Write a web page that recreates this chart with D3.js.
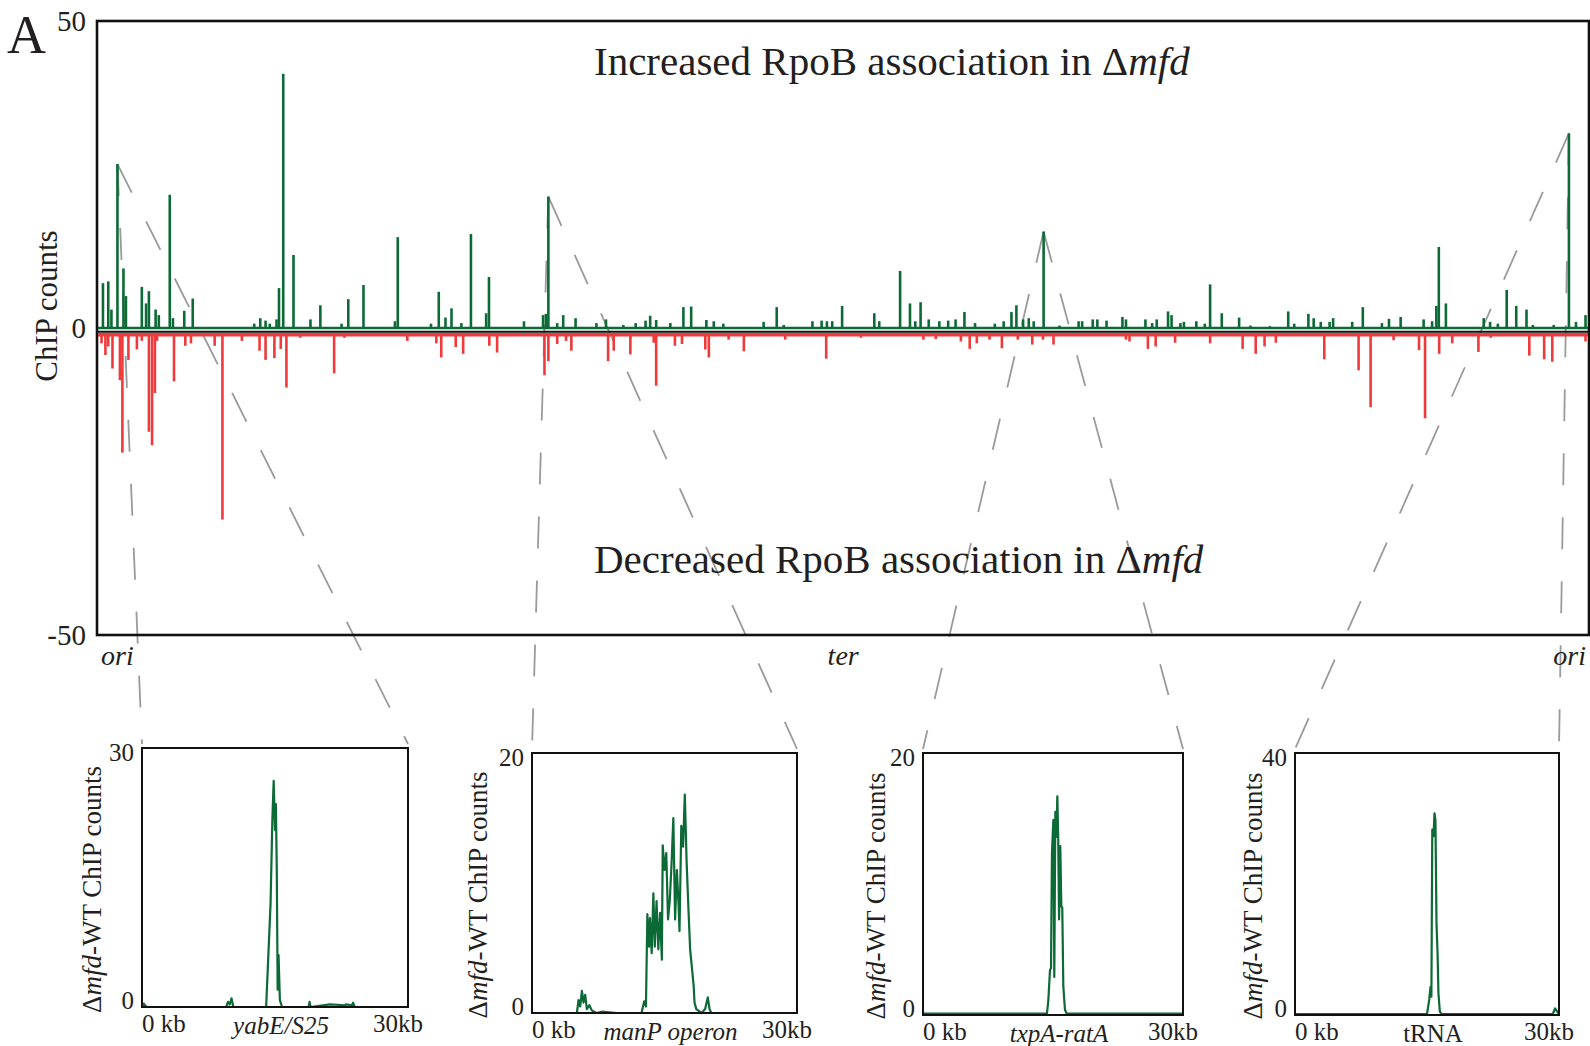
<!DOCTYPE html>
<html>
<head>
<meta charset="utf-8">
<script src="https://cdn.jsdelivr.net/npm/d3@7"></script>
<style>
body { margin: 0; background: #fff; }
</style>
</head>
<body>
<div id="viz"></div>
<script>
const w = 1590;
const h = 1046;
const serif = '"Liberation Serif", "Times New Roman", serif';
const green = '#0b6a35';
const red = '#ee3a3a';
const ink = '#231f20';

// genome length (kb), main y ticks
const genomeKb = 4215;
const mainTicks = [-50, 0, 50];
const genomeLabels = ['ori', 'ter', 'ori'];
const genomeLabelKb = [0, 2108, 4215];

// [position kb, delta count] - increased in mfd
const greenSpikes = [
  [14,7.3],[29,7.6],[38,3.0],[55,26.7],[72,9.7],[79,5.2],[124,6.7],[136,4.0],[144,6.0],[163,3.0],
  [172,2.1],[203,21.7],[212,1.6],[244,2.8],[268,4.8],[442,0.7],[459,1.6],[474,1.2],[486,0.7],[505,1.4],
  [512,6.5],[524,41.4],[553,11.9],[601,1.4],[629,3.7],[689,0.7],[708,4.7],[751,7.0],[840,1.1],[848,14.8],
  [942,0.7],[964,5.9],[983,1.7],[1000,3.2],[1028,0.8],[1055,15.3],[1098,2.4],[1106,8.3],[1205,1.1],[1259,2.1],
  [1267,2.3],[1274,21.4],[1299,0.8],[1316,2.1],[1351,1.6],[1410,0.8],[1437,1.4],[1486,0.5],[1521,0.8],[1549,1.2],
  [1562,2.0],[1579,1.3],[1619,0.8],[1656,3.4],[1678,3.5],[1721,1.3],[1742,1.1],[1769,0.7],[1883,1.0],[1920,3.4],
  [1940,0.5],[2021,1.1],[2047,1.2],[2062,1.1],[2077,1.1],[2105,3.6],[2196,2.4],[2210,1.1],[2269,9.3],[2297,4.0],
  [2312,1.1],[2327,4.2],[2350,1.4],[2380,1.1],[2405,1.2],[2426,1.4],[2451,2.6],[2481,0.8],[2537,0.7],[2562,1.1],
  [2584,2.6],[2598,3.7],[2617,1.4],[2633,1.6],[2647,1.1],[2675,15.7],[2720,0.4],[2774,1.1],[2784,1.1],[2814,1.4],
  [2827,1.4],[2853,1.2],[2898,1.8],[2908,1.4],[2963,1.4],[2982,0.8],[2995,1.4],[3027,2.7],[3037,2.1],[3062,0.8],
  [3072,1.0],[3107,1.1],[3131,0.7],[3146,7.1],[3179,2.4],[3228,1.7],[3260,0.4],[3315,0.3],[3367,2.7],[3384,0.7],
  [3424,2.3],[3439,1.6],[3459,1.0],[3484,1.0],[3494,1.6],[3548,1.0],[3578,3.4],[3632,0.8],[3652,1.5],[3685,1.8],
  [3750,1.4],[3774,1.1],[3786,3.6],[3793,13.2],[3813,4.0],[3920,1.6],[3938,1.0],[3960,0.7],[3985,6.2],[4012,3.6],
  [4041,3.0],[4059,0.5],[4118,0.5],[4161,31.7],[4181,1.0],[4208,2.1]
];

// [position kb, delta count] - decreased in mfd
const redSpikes = [
  [10,-2.5],[21,-4.4],[29,-3.0],[41,-6.6],[62,-8.5],[69,-20.3],[77,-1.3],[86,-5.2],[110,-3.5],[124,-2.1],
  [144,-16.9],[153,-19.1],[161,-10.6],[167,-2.1],[215,-8.7],[247,-2.9],[263,-2.5],[330,-2.9],[352,-31.2],[407,-2.1],
  [457,-3.7],[474,-5.2],[499,-4.9],[517,-3.4],[533,-9.7],[572,-1.6],[668,-7.4],[697,-1.6],[875,-2.1],[957,-2.5],
  [971,-4.8],[1012,-3.1],[1033,-4.2],[1107,-2.9],[1129,-4.0],[1263,-7.7],[1274,-5.4],[1299,-2.6],[1324,-2.1],[1339,-3.7],
  [1443,-5.4],[1459,-3.7],[1506,-4.3],[1572,-2.4],[1579,-9.4],[1632,-2.9],[1652,-2.6],[1718,-3.5],[1728,-4.8],[1784,-1.9],
  [1827,-3.8],[1944,-1.9],[2060,-5.0],[2158,-1.6],[2335,-1.9],[2370,-1.8],[2441,-2.2],[2466,-3.4],[2486,-2.5],[2522,-1.9],
  [2557,-3.3],[2602,-1.9],[2643,-2.7],[2673,-1.9],[2703,-2.7],[2908,-1.9],[2918,-2.2],[2970,-3.4],[2992,-3.0],[3047,-2.4],
  [3146,-2.5],[3238,-3.4],[3275,-4.2],[3300,-3.0],[3332,-2.4],[3469,-5.1],[3566,-6.9],[3600,-12.9],[3665,-2.0],[3737,-3.6],
  [3754,-14.7],[3794,-4.2],[3831,-2.5],[3905,-3.9],[3940,-1.6],[4049,-4.5],[4066,-1.2],[4091,-5.1],[4114,-5.5],[4208,-2.2]
];

// zoomed 30 kb windows: [kb, count]
const yabePts = [
  [0,0],[0.2,0.4],[0.5,0],[9.5,0],[9.7,0.6],[9.9,0.3],[10.1,1.0],[10.3,0],[14.0,0],[14.5,12],
  [14.7,21.6],[14.85,26.2],[15.0,20.5],[15.1,23.5],[15.2,15.9],[15.3,2],[15.4,6],[15.55,0.8],[15.8,0],[18.8,0],
  [18.9,0.6],[19.0,0],[21.2,0.3],[22.9,0.2],[23.0,0.3],[23.7,0.2],[23.8,0.5],[24.0,0],[30,0]
];
const manpPts = [
  [0,0],[5.08,0],[5.27,1.0],[5.46,0.5],[5.65,1.7],[5.83,0.8],[6.02,1.4],[6.21,0.3],[6.5,0.6],[6.77,0.2],
  [7.3,0],[7.9,0.1],[9.6,0],[12.4,0],[12.7,0.9],[12.9,0.5],[13.06,7.6],[13.25,5.1],[13.36,7.3],[13.55,4.6],
  [13.74,9.2],[13.9,5.1],[14.1,8.6],[14.3,4.9],[14.5,7.7],[14.7,4.1],[14.8,12.9],[15.0,11.0],[15.2,12.3],[15.4,7.2],
  [15.6,8.7],[15.8,11.5],[16.0,15.0],[16.2,7.2],[16.4,11.0],[16.6,8.2],[16.7,6.3],[16.9,14.4],[17.1,12.8],[17.3,16.8],
  [17.5,11.7],[17.7,8.2],[17.9,4.9],[18.1,3.5],[18.3,2.1],[18.4,0.8],[18.6,0.3],[19.2,0],[19.6,0.3],[19.9,1.2],
  [20.1,0.3],[20.3,0],[30,0]
];
const txpaPts = [
  [0,0.1],[14.3,0.1],[14.46,1.1],[14.65,3.4],[14.77,3.6],[14.88,12.4],[15.04,14.9],[15.15,2.9],[15.27,15.5],[15.38,13.6],
  [15.5,16.7],[15.6,13.6],[15.7,7.3],[15.84,12.9],[15.96,8.3],[16.07,8.2],[16.19,2.2],[16.38,0.4],[16.57,0.1],[30,0.1]
];
const trnaPts = [
  [0,0.15],[15.0,0.15],[15.25,2.3],[15.4,4.3],[15.5,2.8],[15.6,28.3],[15.74,27.3],[15.85,30.8],[15.96,29.8],[16.08,14.0],
  [16.2,9.4],[16.3,3.3],[16.46,0.5],[16.65,0.15],[29.3,0.15],[29.55,1.0],[29.8,0.5],[30,0.15]
];
const insetSeries = [yabePts, manpPts, txpaPts, trnaPts];
const insetNames = ['yabE/S25', 'manP operon', 'txpA-ratA', 'tRNA'];
const insetItalic = [true, true, true, false];
const insetMax = [30, 20, 20, 40];
const insetPeakKb = [55, 1274, 2675, 4161];
const windowKb = 30;

// inset layout
const insetBoxes = [
  {x: 142, y: 748, w: 266, h: 259, lab: 50},
  {x: 532, y: 753, w: 265, h: 260, lab: 54},
  {x: 923, y: 753, w: 260, h: 262, lab: 47},
  {x: 1295, y: 753, w: 264, h: 262, lab: 42}
];

const svg = d3.select('#viz').append('svg')
    .attr('width', w)
    .attr('height', h)
    .style('font-family', serif)

const x = d3.scaleLinear().domain([0, genomeKb]).range([98, 1588])
const y = d3.scaleLinear().domain([-50, 50]).range([635, 21])

// dashed connectors from main peaks to the zoom boxes
let connectors = svg.append('g')
    .attr('stroke', '#9a9a9a')
    .attr('stroke-width', 1.8)
    .attr('stroke-dasharray', '32,32')
    .attr('fill', 'none');
insetPeakKb.forEach((kb, i) => {
    const pk = greenSpikes.find(d => d[0] === kb);
    const b = insetBoxes[i];
    const corners = [b.x, b.x + b.w];
    corners.forEach(cx => {
        connectors.append('line')
            .attr('x1', x(pk[0])).attr('y1', y(pk[1]))
            .attr('x2', cx).attr('y2', b.y - 4)
    })
})

// main frame
svg.append('rect')
    .attr('x', 97).attr('y', 21)
    .attr('width', 1492).attr('height', 614)
    .attr('fill', 'none')
    .attr('stroke', '#111')
    .attr('stroke-width', 2.6)

// red spikes + baseline
const redBase = -1.1;
svg.append('g').attr('stroke', red).attr('stroke-width', 2.6)
    .selectAll('line').data(redSpikes).join('line')
    .attr('x1', d => x(d[0])).attr('x2', d => x(d[0]))
    .attr('y1', y(redBase)).attr('y2', d => y(d[1]))
svg.append('line')
    .attr('x1', x(0)).attr('x2', x(genomeKb))
    .attr('y1', y(redBase)).attr('y2', y(redBase))
    .attr('stroke', red).attr('stroke-width', 3.4)
svg.append('line')
    .attr('x1', x(0)).attr('x2', x(genomeKb))
    .attr('y1', y(-0.6)).attr('y2', y(-0.6))
    .attr('stroke', '#111').attr('stroke-width', 2)

// green baseline + spikes
svg.append('line')
    .attr('x1', x(0)).attr('x2', x(genomeKb))
    .attr('y1', y(0)).attr('y2', y(0))
    .attr('stroke', green).attr('stroke-width', 2.6)
svg.append('g').attr('stroke', green).attr('stroke-width', 2.6)
    .selectAll('line').data(greenSpikes).join('line')
    .attr('x1', d => x(d[0])).attr('x2', d => x(d[0]))
    .attr('y1', y(0)).attr('y2', d => y(d[1]))

// main y axis
svg.append('g')
    .attr('transform', 'translate(97,0)')
    .call(d3.axisLeft(y).tickValues(mainTicks).tickFormat(d => String(d)).tickSize(0).tickPadding(11))
    .call(g => g.select('.domain').remove())
    .attr('font-family', serif)
    .attr('font-size', 29)
    .selectAll('text').attr('fill', ink)

svg.append('text')
    .attr('transform', 'translate(57,306) rotate(-90)')
    .attr('text-anchor', 'middle')
    .attr('font-size', 31)
    .attr('fill', ink)
    .text('ChIP counts')

svg.append('text')
    .attr('x', 7).attr('y', 53)
    .attr('font-size', 54)
    .attr('fill', ink)
    .text('A')

// genome landmarks
const anchors = ['start', 'middle', 'end'];
const nudge = [3, 0, -2];
genomeLabels.forEach((lab, i) => {
    svg.append('text')
        .attr('x', x(genomeLabelKb[i]) + nudge[i]).attr('y', 665)
        .attr('text-anchor', anchors[i])
        .attr('font-size', 28)
        .attr('font-style', 'italic')
        .attr('fill', ink)
        .text(lab)
})

function mfdTitle(word, yPos) {
    let t = svg.append('text')
        .attr('x', 594).attr('y', yPos)
        .attr('font-size', 41)
        .attr('fill', ink)
    t.append('tspan').text(word + ' RpoB association in \u0394')
    t.append('tspan').attr('font-style', 'italic').text('mfd')
}
mfdTitle('Increased', 75)
mfdTitle('Decreased', 573)

// zoom windows
insetSeries.forEach((pts, i) => {
    const b = insetBoxes[i];
    const ix = d3.scaleLinear().domain([0, windowKb]).range([b.x, b.x + b.w]);
    const iy = d3.scaleLinear().domain([0, insetMax[i]]).range([b.y + b.h, b.y]);
    let g = svg.append('g');

    g.append('path')
        .datum(pts)
        .attr('d', d3.line().x(d => ix(d[0])).y(d => iy(d[1])))
        .attr('fill', 'none')
        .attr('stroke', green)
        .attr('stroke-width', 2.2)
        .attr('stroke-linejoin', 'round')

    g.append('rect')
        .attr('x', b.x).attr('y', b.y)
        .attr('width', b.w).attr('height', b.h)
        .attr('fill', 'none')
        .attr('stroke', '#111')
        .attr('stroke-width', 2)

    g.append('g')
        .attr('transform', `translate(${b.x},0)`)
        .call(d3.axisLeft(iy).tickValues([0, insetMax[i]]).tickSize(0).tickPadding(8))
        .call(a => a.select('.domain').remove())
        .attr('font-family', serif)
        .attr('font-size', 25)
        .selectAll('text')
        .attr('fill', ink)
        .attr('dy', d => d === 0 ? '0.05em' : '0.5em')

    const by = b.y + b.h + 25;
    g.append('text').attr('x', ix(0)).attr('y', by)
        .attr('font-size', 25).attr('fill', ink).text('0 kb')
    g.append('text').attr('x', ix(windowKb) + 15).attr('y', by)
        .attr('text-anchor', 'end')
        .attr('font-size', 25).attr('fill', ink).text(windowKb + 'kb')
    g.append('text').attr('x', ix(windowKb / 2) + 6).attr('y', by + 2)
        .attr('text-anchor', 'middle')
        .attr('font-size', 25)
        .attr('font-style', insetItalic[i] ? 'italic' : 'normal')
        .attr('fill', ink).text(insetNames[i])

    let yl = g.append('text')
        .attr('transform', `translate(${b.x - b.lab + 9},${b.y + b.h / 2 + 12}) rotate(-90)`)
        .attr('text-anchor', 'middle')
        .attr('font-size', 27)
        .attr('fill', ink)
    yl.append('tspan').text('\u0394')
    yl.append('tspan').attr('font-style', 'italic').text('mfd')
    yl.append('tspan').text('-WT ChIP counts')
})
</script>
</body>
</html>
